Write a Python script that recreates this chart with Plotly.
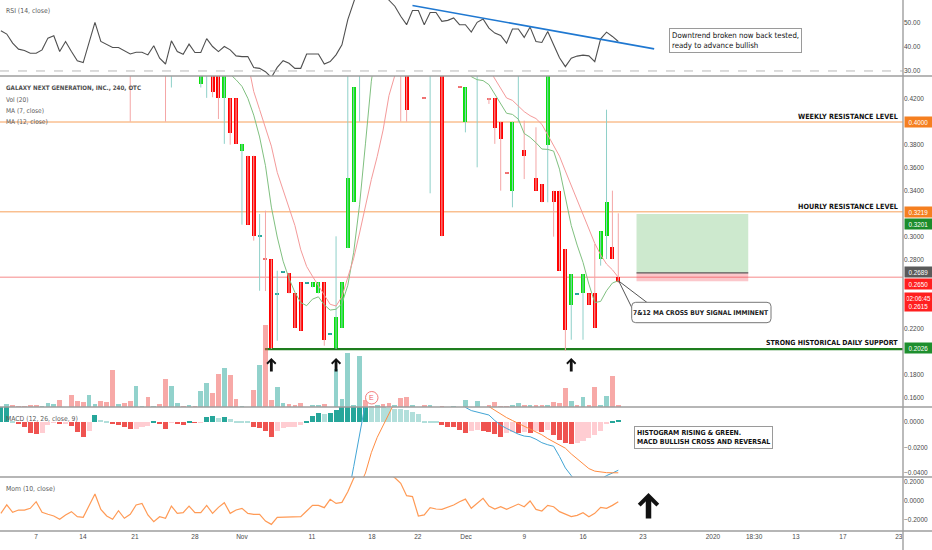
import plotly.graph_objects as go

# ------------------------------------------------------------------ data
bars = list(range(-1, 105))  # 240-min bar number (bar -1 is the partly visible first bar)

x_tick_bars = [4.97, 12.96, 21.8, 32.0, 40.0, 51.9, 62.1, 69.9, 78.1, 88.0, 98.0,
               108.2, 120.1, 127.1, 134.2, 142.2, 151.7]
x_tick_text = ["7", "14", "21", "28", "Nov", "11", "18", "22", "Dec", "9", "16",
               "23", "2020", "18:30", "13", "17", "23"]

candle_bar = [21, 27, 28, 33, 34, 35, 36, 37, 38, 39, 40, 41, 42, 43, 44, 45, 46, 47, 48, 49, 50,
              51, 52, 53, 54, 55, 56, 57, 58, 59, 60, 67, 68, 71, 72, 74, 77, 78, 80, 82, 83, 84,
              85, 86, 87, 88, 90, 91, 92, 93, 94, 95, 96, 97, 98, 99, 100, 101, 102, 103, 104]
candle_open = [0.460, 0.460, 0.450, 0.433, 0.445, 0.450, 0.450, 0.4206, 0.4206, 0.4206, 0.3745,
               0.3707, 0.3707, 0.3006, 0.2810, 0.2806, 0.2505, 0.2700, 0.2687, 0.2510, 0.2606,
               0.2603, 0.2563, 0.2510, 0.2606, 0.2154, 0.2035, 0.2209, 0.2904, 0.3307, 0.4450,
               0.4600, 0.4500, 0.4209, 0.4450, 0.4500, 0.4310, 0.4003, 0.4450, 0.4209, 0.4209,
               0.4003, 0.3560, 0.3403, 0.4450, 0.3757, 0.3510, 0.3461, 0.3803, 0.3403, 0.3403,
               0.2896, 0.2411, 0.2501, 0.2510, 0.2510, 0.2510, 0.2809, 0.3006, 0.2910, 0.2655]
candle_high = [0.470, 0.470, 0.470, 0.460, 0.460, 0.460, 0.460, 0.460, 0.4206, 0.4206, 0.3810,
               0.3707, 0.3707, 0.3200, 0.3229, 0.2806, 0.2707, 0.2704, 0.2687, 0.2510, 0.2606,
               0.2606, 0.2606, 0.2606, 0.2606, 0.2157, 0.3006, 0.2606, 0.4600, 0.4302, 0.4700,
               0.4700, 0.4600, 0.4209, 0.4600, 0.4600, 0.4310, 0.4302, 0.4600, 0.4209, 0.4209,
               0.4003, 0.3560, 0.4003, 0.4600, 0.4012, 0.3954, 0.3461, 0.4600, 0.3403, 0.3403,
               0.2896, 0.2678, 0.2504, 0.2678, 0.2510, 0.2939, 0.3050, 0.4107, 0.3403, 0.3206]
candle_low = [0.4003, 0.4003, 0.4300, 0.4300, 0.4210, 0.4215, 0.4026, 0.3810, 0.3803, 0.3810, 0.3107,
              0.3107, 0.2968, 0.2533, 0.2530, 0.2026, 0.2098, 0.2700, 0.2510, 0.2209, 0.2185,
              0.2603, 0.2563, 0.2510, 0.2055, 0.2154, 0.2026, 0.2209, 0.2904, 0.3307, 0.4003,
              0.4004, 0.4003, 0.4206, 0.3380, 0.3006, 0.4307, 0.3910, 0.3606, 0.4157, 0.3810,
              0.3403, 0.3557, 0.3258, 0.4000, 0.3504, 0.3403, 0.3302, 0.3302, 0.3003, 0.2707,
              0.2011, 0.2107, 0.2501, 0.2107, 0.2411, 0.2209, 0.2751, 0.2809, 0.2809, 0.2600]
candle_close = [0.450, 0.450, 0.460, 0.450, 0.455, 0.426, 0.4206, 0.450, 0.3904, 0.3810, 0.3810,
                0.3107, 0.3006, 0.3011, 0.2806, 0.2035, 0.2510, 0.2704, 0.2510, 0.2209, 0.2185,
                0.2606, 0.2606, 0.2606, 0.2107, 0.2157, 0.2307, 0.2606, 0.3510, 0.4302, 0.4600,
                0.4500, 0.4107, 0.4206, 0.4550, 0.3006, 0.4307, 0.4302, 0.4550, 0.4200, 0.3945,
                0.3852, 0.3557, 0.4003, 0.4550, 0.3707, 0.3403, 0.3302, 0.4500, 0.3302, 0.2707,
                0.2191, 0.2678, 0.2504, 0.2678, 0.2411, 0.2209, 0.3050, 0.3307, 0.2809, 0.2605]

volume = [0, 2.7, 2.3, 0.7, 0.7, 1.7, 1.7, 0.7, 3.7, 3.0, 6.7, 0.5, 12.3, 5.7, 5.0, 12.3, 2.7,
          5.7, 5.0, 37.3, 3.3, 4.3, 5.7, 20.7, 0.7, 9.7, 0.7, 2.7, 27.7, 20.7, 4.3, 1.0, 2.3,
          0.7, 15.7, 24.3, 14.0, 32.7, 39.3, 31.7, 7.7, 0.7, 0.5, 16.7, 41.7, 81.7, 6.7, 19.7,
          4.3, 3.3, 2.3, 3.7, 0.5, 1.7, 1.7, 2.7, 0.5, 38.3, 8.3, 54.0, 2.3, 50.7, 6.7, 1.0,
          1.7, 2.7, 4.0, 1.7, 9.0, 10.3, 1.7, 0, 2.3, 1.7, 0, 1.0, 0, 0.7, 0, 6.7, 0, 5.7, 0,
          2.3, 5.0, 1.0, 0.7, 2.3, 4.0, 1.7, 1.7, 2.3, 1.7, 2.3, 5.0, 4.3, 19.0, 5.7, 1.7,
          9.7, 1.7, 20.0, 1.7, 10.7, 30.7, 2.3]
vol_dir = [1, 1, -1, -1, -1, -1, -1, 1, 1, 1, -1, -1, -1, -1, -1, 1, 1, -1, -1, -1,
           1, -1, -1, 1, 1, -1, 1, -1, -1, 1, 1, -1, 1, -1, 1, 1, -1, -1, 1, -1,
           -1, 1, -1, -1, 1, -1, -1, 1, 1, -1, -1, -1, 1, 1, 1, -1, 1, 1, 1, 1,
           1, 1, -1, -1, 1, -1, -1, 1, -1, -1, 1, 1, -1, 1, 1, -1, 1, 1, -1, 1,
           1, 1, 1, -1, -1, -1, -1, 1, 1, -1, 1, -1, -1, 1, -1, -1, -1, 1, -1, 1,
           -1, -1, 1, 1, -1, -1]

ma7_start_a = 37
ma7_a = [0.448, 0.4415, 0.4367, 0.431, 0.4206, 0.406, 0.387, 0.362, 0.326, 0.300, 0.279, 0.264,
         0.252, 0.243, 0.2403, 0.2460, 0.2480, 0.2410, 0.2365, 0.2372, 0.2420, 0.2580, 0.2868,
         0.3280, 0.3810, 0.4355, 0.470]
ma7_start_b = 78
ma7_b = [0.447, 0.4394, 0.4368, 0.4360, 0.4325, 0.4240, 0.4160, 0.4076, 0.4066, 0.4025, 0.3900,
         0.3867, 0.3820, 0.3765, 0.3762, 0.3747, 0.3590, 0.3330, 0.3100, 0.2930, 0.2780, 0.2590,
         0.2430, 0.2440, 0.2533, 0.2600, 0.2620]
ma12_start_a = 41
ma12_a = [0.452, 0.4265, 0.4108, 0.3958, 0.3790, 0.3562, 0.3408, 0.3255, 0.3101, 0.2889, 0.2744,
          0.2658, 0.2573, 0.2490, 0.2415, 0.2400, 0.2480, 0.2650, 0.2815, 0.3035, 0.3270, 0.3500,
          0.3700, 0.3930, 0.4230, 0.4394, 0.458]
ma12_start_b = 82
ma12_b = [0.446, 0.4374, 0.4294, 0.4209, 0.4188, 0.4143, 0.4090, 0.4055, 0.4030, 0.3980, 0.3892,
          0.3804, 0.3703, 0.3574, 0.3447, 0.3320, 0.3192, 0.3063, 0.2945, 0.2845, 0.2765, 0.2715,
          0.2650]

rsi = [46.8, 45.4, 41.6, 39.1, 38.5, 37.4, 37.4, 38.8, 43.7, 44.7, 38.1, 42.3, 38.1, 34.2, 33.5,
       42.3, 50.3, 42.3, 40.9, 39.8, 39.8, 38.5, 37.1, 37.8, 37.8, 36.7, 40.5, 35.3, 32.9, 42.6,
       38.1, 37.0, 41.2, 37.7, 37.7, 43.5, 40.2, 38.1, 40.2, 38.8, 36.3, 36.0, 36.0, 31.4, 31.1,
       29.7, 27.3, 31.5, 34.3, 33.2, 31.1, 31.1, 37.1, 37.1, 37.1, 32.9, 33.9, 36.7, 40.9, 51.4,
       60.5, 66.0, 70.0, 72.0, 68.0, 63.0, 59.5, 57.0, 52.8, 49.3, 55.2, 55.2, 49.3, 54.4, 54.4,
       50.7, 51.1, 52.1, 49.3, 49.3, 46.2, 50.3, 51.7, 47.9, 45.8, 44.8, 41.6, 47.5, 47.5, 44.0,
       48.3, 42.3, 41.9, 46.5, 40.9, 35.5, 31.8, 35.3, 36.2, 36.6, 36.3, 33.9, 43.4, 46.2, 44.4,
       42.3]
rsi_trend_bars = [69.0, 110.1]
rsi_trend_vals = [57.3, 39.2]

macd_hist = [0.0130, 0.0130, 0.0004, -0.0010, -0.0037, -0.0084, -0.0097, -0.0084, -0.0024, -0.0005,
             -0.0016, -0.0008, -0.0031, -0.0076, -0.0120, -0.0068, 0.0052, 0.0020, 0.0008, -0.0016,
             -0.0024, -0.0037, -0.0055, -0.0053, -0.0037, -0.0031, 0.0005, -0.0018, -0.0055, -0.0003,
             -0.0016, -0.0024, 0.0008, -0.0005, -0.0003, 0.0042, 0.0044, 0.0029, 0.0042, 0.0026,
             0.0010, 0.0008, 0.0005, -0.0037, -0.0050, -0.0068, -0.0115, -0.0068, -0.0050, -0.0042,
             -0.0037, -0.0024, 0.0008, 0.0047, 0.0073, 0.0063, 0.0068, 0.0094, 0.0115, 0.0130,
             0.0140, 0.0150, 0.0160, 0.0140, 0.0130, 0.0120, 0.0107, 0.0105, 0.0100, 0.0094,
             0.0081, 0.0063, 0.0006, 0.0005, 0.0004, -0.0024, -0.0037, -0.0042, -0.0063, -0.0082,
             -0.0070, -0.0066, -0.0072, -0.0080, -0.0093, -0.0118, -0.0085, -0.0076, -0.0087, -0.0077,
             -0.0089, -0.0068, -0.0075, -0.0060, -0.0102, -0.0141, -0.0167, -0.0175, -0.0162, -0.0146,
             -0.0128, -0.0102, -0.0068, -0.0010, 0.0008, 0.0016]
macd_start_a = 57
macd_a = [-0.080, -0.059, -0.035, -0.010, 0.015, 0.040]
macd_start_b = 77
macd_b = [0.020, 0.0115, 0.0090, 0.0078, 0.0070, 0.0055, 0.0012, -0.0025, -0.0050, -0.0075,
          -0.0095, -0.0110, -0.0115, -0.0135, -0.0162, -0.0178, -0.0190, -0.0270, -0.0360, -0.0420,
          -0.0480, -0.0500, -0.0500, -0.0480, -0.0450, -0.0420, -0.0400, -0.0378]
signal_start_a = 59
signal_a = [-0.062, -0.050, -0.040, -0.024, -0.012, -0.002, 0.007, 0.016, 0.025]
signal_start_b = 81
signal_b = [0.015, 0.012, 0.009, 0.006, 0.0035, 0.0012, -0.0010, -0.0035, -0.0058, -0.0075,
            -0.0100, -0.0130, -0.0155, -0.0185, -0.0205, -0.0250, -0.0290, -0.0330, -0.0365,
            -0.0385, -0.0393, -0.0397, -0.0398, -0.0398]

mom = [-0.130, -0.040, -0.119, -0.095, -0.095, -0.077, -0.007, -0.119, -0.140, -0.158, -0.193,
       -0.147, -0.112, -0.165, -0.172, -0.042, 0.074, -0.088, -0.158, -0.193, -0.102, -0.182,
       -0.140, -0.042, -0.025, -0.147, -0.218, -0.165, -0.182, -0.053, -0.130, -0.123, -0.053,
       -0.123, -0.123, -0.046, -0.130, -0.067, -0.018, -0.130, -0.095, -0.077, -0.130, -0.140,
       -0.140, -0.211, -0.246, -0.172, -0.172, -0.172, -0.165, -0.165, -0.105, -0.046, -0.046,
       -0.070, 0.018, -0.025, -0.014, 0.098, 0.239, 0.34, 0.38, 0.40, 0.38, 0.34, 0.29, 0.245,
       0.186, 0.056, 0.046, -0.158, -0.147, -0.070, -0.084, -0.088, -0.067, -0.042, -0.007,
       0.020, -0.077, -0.025, 0.028, -0.053, -0.084, -0.060, -0.088, -0.060, -0.032, -0.060,
       0.000, -0.088, -0.105, -0.046, -0.060, -0.112, -0.140, -0.165, -0.151, -0.123, -0.165,
       -0.130, -0.067, -0.077, -0.046, -0.007]

weekly_resistance = 0.4000
hourly_resistance = 0.3219
daily_support = 0.2026
support_from_bar = 43.9
last_price = 0.2650
pos_entry, pos_target, pos_stop = 0.2689, 0.3201, 0.2615
pos_bars = [107.1, 126.1]
signal_arrow_bars = [45, 56, 96]

# ------------------------------------------------------------------ geometry (page pixels)
W, H = 932, 550
PW, PH = 903, 531
X_RANGE = [-1.15, 152.42]
NARROW = "Liberation Sans Narrow, Arial Narrow, DejaVu Sans Condensed, sans-serif"
SANS = "Liberation Sans, Arial, sans-serif"


def px(x):
    return x / PW


def py(y):
    return 1 - y / PH


D_RSI = [py(76), 1]
D_MAIN = [py(407), py(76)]
D_MACD = [py(477), py(407)]
D_MOM = [0, py(477)]

UP_BODY, DN_BODY = "#0be00b", "#ff0000"
UP_WICK, DN_WICK = "#8fd0c9", "#f4a6a6"
UP_DASH, DN_DASH = "#26a69a", "#f07070"

fig = go.Figure()

# volume (base axis of main pane)
fig.add_trace(go.Bar(
    x=bars, y=volume, width=0.8, xaxis="x", yaxis="y2",
    marker=dict(color=["rgba(38,166,154,0.5)" if d > 0 else "rgba(239,83,80,0.5)" for d in vol_dir],
                line_width=0),
    hoverinfo="skip"))

# candle wicks
for up in (True, False):
    xs, ys = [], []
    for b, o, h, l, c in zip(candle_bar, candle_open, candle_high, candle_low, candle_close):
        if (c >= o) == up:
            xs += [b, b, None]
            ys += [l, h, None]
    fig.add_trace(go.Scatter(x=xs, y=ys, mode="lines", xaxis="x", yaxis="y3",
                             line=dict(color=UP_WICK if up else DN_WICK, width=1),
                             hoverinfo="skip"))

# candle bodies
b_base, b_h, b_col = [], [], []
for o, c in zip(candle_open, candle_close):
    lo, hi = min(o, c), max(o, c)
    h = max(hi - lo, 0.0013)
    b_base.append(lo if hi - lo >= 0.0013 else (lo + hi) / 2 - 0.00065)
    b_h.append(h)
    if hi - lo < 0.001:
        b_col.append(UP_DASH if c >= o else DN_DASH)
    else:
        b_col.append(UP_BODY if c >= o else DN_BODY)
fig.add_trace(go.Bar(x=candle_bar, y=b_h, base=b_base, width=0.68, xaxis="x", yaxis="y3",
                     marker=dict(color=b_col, line_width=0), hoverinfo="skip"))


def seg(start_a, a, start_b, b):
    xs = list(range(start_a, start_a + len(a))) + [None] + list(range(start_b, start_b + len(b)))
    return xs, list(a) + [None] + list(b)


mx, my = seg(ma7_start_a, ma7_a, ma7_start_b, ma7_b)
fig.add_trace(go.Scatter(x=mx, y=my, mode="lines", xaxis="x", yaxis="y3",
                         line=dict(color="#80c080", width=1), hoverinfo="skip"))
mx, my = seg(ma12_start_a, ma12_a, ma12_start_b, ma12_b)
fig.add_trace(go.Scatter(x=mx, y=my, mode="lines", xaxis="x", yaxis="y3",
                         line=dict(color="#f49a9a", width=1), hoverinfo="skip"))

# RSI
fig.add_trace(go.Scatter(x=bars, y=rsi, mode="lines", xaxis="x", yaxis="y",
                         line=dict(color="#505050", width=1.1), hoverinfo="skip"))
fig.add_trace(go.Scatter(x=rsi_trend_bars, y=rsi_trend_vals, mode="lines", xaxis="x", yaxis="y",
                         line=dict(color="#1f78d1", width=1.6), hoverinfo="skip"))

# MACD histogram
h_col = []
prev = None
for v in macd_hist:
    rising = prev is None or v >= prev
    if v >= 0:
        h_col.append("#26a69a" if rising else "#b2dfdb")
    else:
        h_col.append("#ffcdd2" if rising else "#ef5350")
    prev = v
fig.add_trace(go.Bar(x=bars, y=macd_hist, width=0.86, xaxis="x", yaxis="y4",
                     marker=dict(color=h_col, line_width=0), hoverinfo="skip"))
mx, my = seg(macd_start_a, macd_a, macd_start_b, macd_b)
fig.add_trace(go.Scatter(x=mx, y=my, mode="lines", xaxis="x", yaxis="y4",
                         line=dict(color="#42a5d5", width=1), hoverinfo="skip"))
mx, my = seg(signal_start_a, signal_a, signal_start_b, signal_b)
fig.add_trace(go.Scatter(x=mx, y=my, mode="lines", xaxis="x", yaxis="y4",
                         line=dict(color="#ff8c42", width=1), hoverinfo="skip"))

# Momentum
fig.add_trace(go.Scatter(x=bars, y=mom, mode="lines", xaxis="x", yaxis="y5",
                         line=dict(color="#ff9a55", width=1.2), hoverinfo="skip"))

# ------------------------------------------------------------------ shapes
shapes = []
for lvl in (weekly_resistance, hourly_resistance):
    shapes.append(dict(type="line", xref="paper", yref="y3", x0=0, x1=1, y0=lvl, y1=lvl,
                       line=dict(color="#f7a05a", width=1), layer="below"))
shapes.append(dict(type="line", xref="paper", yref="y3", x0=0, x1=1, y0=last_price, y1=last_price,
                   line=dict(color="rgba(242,80,80,0.45)", width=1.6), layer="below"))
shapes.append(dict(type="line", xref="x", yref="y3", x0=support_from_bar, x1=X_RANGE[1],
                   y0=daily_support, y1=daily_support,
                   line=dict(color="#1e7d1e", width=2.2), layer="below"))
shapes.append(dict(type="line", xref="paper", yref="y", x0=0, x1=1, y0=30, y1=30,
                   line=dict(color="#b8b8b8", width=1, dash="dash")))
# long position tool
shapes.append(dict(type="rect", xref="x", yref="y3", x0=pos_bars[0], x1=pos_bars[1],
                   y0=pos_entry, y1=pos_target, fillcolor="rgba(76,175,80,0.28)", line_width=0))
shapes.append(dict(type="rect", xref="x", yref="y3", x0=pos_bars[0], x1=pos_bars[1],
                   y0=pos_stop, y1=pos_entry, fillcolor="rgba(242,54,69,0.28)", line_width=0))
shapes.append(dict(type="line", xref="x", yref="y3", x0=pos_bars[0], x1=pos_bars[1],
                   y0=pos_entry, y1=pos_entry, line=dict(color="#5a5a5a", width=1.3)))


def rrect(x0, y0, x1, y1, r):
    return (f"M {px(x0 + r)},{py(y0)} L {px(x1 - r)},{py(y0)} "
            f"Q {px(x1)},{py(y0)} {px(x1)},{py(y0 + r)} L {px(x1)},{py(y1 - r)} "
            f"Q {px(x1)},{py(y1)} {px(x1 - r)},{py(y1)} L {px(x0 + r)},{py(y1)} "
            f"Q {px(x0)},{py(y1)} {px(x0)},{py(y1 - r)} L {px(x0)},{py(y0 + r)} "
            f"Q {px(x0)},{py(y0)} {px(x0 + r)},{py(y0)} Z")


shapes.append(dict(type="path", xref="paper", yref="paper",
                   path=f"M {px(618.7)},{py(281)} L {px(632)},{py(308)} M {px(618.7)},{py(281)} L {px(647)},{py(302.5)}",
                   line=dict(color="#555555", width=1)))
shapes.append(dict(type="path", xref="paper", yref="paper", path=rrect(631.7, 302.3, 771, 322.7, 4),
                   fillcolor="white", line=dict(color="#777777", width=1)))
shapes.append(dict(type="circle", xref="paper", yref="paper", x0=px(365.5), x1=px(378), y0=py(404),
                   y1=py(391.5), fillcolor="white", line=dict(color="#f47c7c", width=1)))
for yy in (76, 407, 477, 531):
    shapes.append(dict(type="line", xref="paper", yref="paper", x0=0, x1=W / PW, y0=py(yy), y1=py(yy),
                       line=dict(color="#9e9e9e", width=1.4)))
shapes.append(dict(type="line", xref="paper", yref="paper", x0=1, x1=1, y0=py(H), y1=1,
                   line=dict(color="#9e9e9e", width=1.4)))

# ------------------------------------------------------------------ annotations
ann = []


def label(text, x, y, size=6.5, color="#5a5a5a", anchor="left", fam=NARROW):
    ann.append(dict(text=text, xref="paper", yref="paper", x=px(x), y=py(y), xanchor=anchor,
                    yanchor="middle", showarrow=False, font=dict(size=size, color=color, family=fam)))


label("RSI (14, close)", 4, 11, size=6.8)
label("<b>GALAXY NEXT GENERATION, INC., 240, OTC</b>", 4, 88, size=6.2, color="#4f4f4f")
label("Vol (20)", 4, 100)
label("MA (7, close)", 4, 111)
label("MA (12, close)", 4, 122)
label("MACD (12, 26, close, 9)", 4, 419, size=6.8)
label("Mom (10, close)", 4, 489, size=6.8)
label("<b>WEEKLY RESISTANCE LEVEL</b>", 900, 116, size=7.2, color="#111111", anchor="right")
label("<b>HOURLY RESISTANCE LEVEL</b>", 900, 206, size=7.2, color="#111111", anchor="right")
label("<b>STRONG HISTORICAL DAILY SUPPORT</b>", 900, 343, size=7.0, color="#111111", anchor="right")
label("<b>7&amp;12 MA CROSS BUY SIGNAL IMMINENT</b>", 701.3, 312.8, size=6.7, color="#222222",
      anchor="center")
label("E", 371.8, 397.8, size=7, color="#f06060", anchor="center", fam=SANS)

ann.append(dict(text="Downtrend broken now back tested,<br>ready to advance bullish", xref="paper",
                yref="paper", x=px(669.3), y=py(28.3), xanchor="left", yanchor="top", align="left",
                showarrow=False, bgcolor="white", bordercolor="#9a9a9a", borderwidth=1, borderpad=2,
                font=dict(size=7.8, color="#111111", family=NARROW)))
ann.append(dict(text="<b>HISTOGRAM RISING &amp; GREEN.</b><br><b>MACD BULLISH CROSS AND REVERSAL</b>",
                xref="paper", yref="paper", x=px(634.3), y=py(425.7), xanchor="left", yanchor="top",
                align="left", showarrow=False, bgcolor="white", bordercolor="#9a9a9a", borderwidth=1,
                borderpad=2, font=dict(size=6.9, color="#111111", family=NARROW)))

for txt, col, yy in [("0.4000", "#f57f20", 121.5), ("0.3219", "#f57f20", 211.5),
                     ("0.3201", "#1b8c2b", 223.5), ("0.2689", "#5a5a5a", 272.3),
                     ("0.2650", "#ff1f1f", 283.7), ("02:06:45<br>0.2615", "#ff1f1f", 301.5),
                     ("0.2026", "#1e8f2e", 348.3)]:
    ann.append(dict(text=txt, xref="paper", yref="paper", x=px(904), y=py(yy), xanchor="left",
                    yanchor="middle", showarrow=False, bgcolor=col, borderpad=1.5, width=24,
                    font=dict(size=6.3, color="white", family=SANS)))

for b in signal_arrow_bars:
    ann.append(dict(text="", xref="x", yref="paper", x=b, y=py(358), ax=0, ay=15, showarrow=True,
                    arrowhead=4, arrowsize=0.6, arrowwidth=2.8, arrowcolor="#111111"))
ann.append(dict(text="", xref="paper", yref="paper", x=px(648.5), y=py(493), ax=0, ay=27,
                showarrow=True, arrowhead=4, arrowsize=0.65, arrowwidth=5.5, arrowcolor="#111111"))

tickfont = dict(size=6.5, color="#4a4a4a", family=SANS)
fig.update_layout(
    width=W, height=H, margin=dict(l=0, r=W - PW, t=0, b=H - PH),
    paper_bgcolor="white", plot_bgcolor="white", showlegend=False, barmode="overlay",
    bargap=0, shapes=shapes, annotations=ann,
    xaxis=dict(domain=[0, 1], range=X_RANGE, anchor="y5", tickvals=x_tick_bars, ticktext=x_tick_text,
               showgrid=False, zeroline=False, showline=False, ticks="", tickfont=tickfont,
               fixedrange=True),
    yaxis=dict(domain=D_RSI, range=[27.9, 59.6], anchor="x", side="right", tickvals=[30, 40, 50],
               ticktext=["30.00", "40.00", "50.00"], showgrid=False, zeroline=False, ticks="",
               tickfont=tickfont),
    yaxis2=dict(domain=D_MAIN, range=[0, 331], anchor="x", visible=False),
    yaxis3=dict(overlaying="y2", range=[0.1522, 0.44], anchor="x", side="right",
                tickvals=[0.16, 0.18, 0.22, 0.28, 0.30, 0.34, 0.36, 0.38, 0.42], tickformat=".4f",
                showgrid=False, zeroline=False, ticks="", tickfont=tickfont),
    yaxis4=dict(domain=D_MACD, range=[-0.0431, 0.0118], anchor="x", side="right",
                tickvals=[-0.04, -0.02, 0], ticktext=["\u22120.0400", "\u22120.0200", "0.0000"],
                showgrid=False, zeroline=False, ticks="", tickfont=tickfont),
    yaxis5=dict(domain=D_MOM, range=[-0.316, 0.253], anchor="x", side="right",
                tickvals=[-0.2, 0, 0.2], ticktext=["\u22120.2000", "0.0000", "0.2000"],
                showgrid=False, zeroline=False, ticks="", tickfont=tickfont),
)

fig.write_html("out.html", config={"displayModeBar": False},
               post_script="document.body.style.margin='0';document.body.style.overflow='hidden';")
